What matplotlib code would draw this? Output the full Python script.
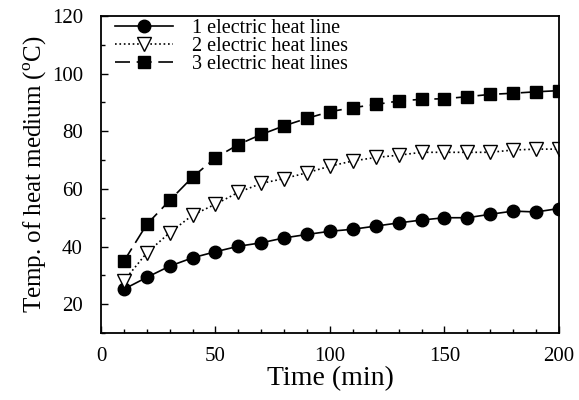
import matplotlib
matplotlib.use("Agg")
import matplotlib.pyplot as plt
from matplotlib.ticker import MultipleLocator

plt.rcParams["font.family"] = ["Liberation Serif", "DejaVu Serif"]
plt.rcParams["mathtext.fontset"] = "custom"
plt.rcParams["mathtext.rm"] = "Liberation Serif"

time_min = [10, 20, 30, 40, 50, 60, 70, 80, 90, 100,
            110, 120, 130, 140, 150, 160, 170, 180, 190, 200]

one_line = [25.2, 29.3, 33.2, 36.1, 38.2, 40.1, 41.3, 43.0, 44.2, 45.3,
            46.0, 47.1, 48.2, 49.2, 50.0, 50.0, 51.2, 52.3, 52.0, 53.2]
two_lines = [28.1, 37.8, 44.8, 50.9, 54.7, 58.8, 61.9, 63.6, 65.6, 67.9,
             69.7, 70.9, 71.7, 72.7, 72.7, 72.7, 72.7, 73.5, 73.8, 73.8]
three_lines = [34.9, 47.7, 56.0, 64.1, 70.8, 75.4, 78.9, 81.9, 84.5, 86.8,
               88.2, 89.3, 90.5, 91.1, 91.3, 92.0, 92.8, 93.2, 93.7, 94.1]

fig = plt.figure(figsize=(5.79, 4.00), dpi=100)
ax = fig.add_axes([0.1744, 0.1675, 0.791, 0.7925])

ax.plot(time_min, one_line, "-", color="black", lw=1.2, marker="o",
        ms=9, mfc="black", mec="black", label="1 electric heat line")
ax.plot(time_min, two_lines, ":", color="black", lw=1.2, marker="v",
        ms=9.5, mfc="white", mec="black", mew=1.0, label="2 electric heat lines")
ax.plot(time_min, three_lines, color="black", lw=1.2, dashes=(9, 4),
        marker="s", ms=8.5, mfc="black", mec="black", label="3 electric heat lines")

ax.set_xlim(0, 200)
ax.set_ylim(10, 120)
ax.xaxis.set_major_locator(MultipleLocator(50))
ax.xaxis.set_minor_locator(MultipleLocator(10))
ax.yaxis.set_major_locator(MultipleLocator(20))
ax.yaxis.set_minor_locator(MultipleLocator(10))
ax.tick_params(which="both", direction="in", top=False, right=False,
               labelsize=15, width=1.0)
ax.tick_params(which="major", length=5)
ax.tick_params(which="minor", length=3)
ax.tick_params(axis="x", pad=10)
ax.tick_params(axis="y", pad=13)
for s in ax.spines.values():
    s.set_linewidth(1.3)

ax.set_xlabel("Time (min)", fontsize=20, labelpad=0)
ax.set_ylabel(r"Temp. of heat medium ($^{\rm o}$C)", fontsize=18, labelpad=2)

ax.legend(loc="upper left", bbox_to_anchor=(0.0, 1.035), frameon=False,
          fontsize=14.5, handlelength=2.9, labelspacing=-0.05,
          borderaxespad=0.3, handletextpad=0.9)

fig.savefig("out.png", dpi=100)
